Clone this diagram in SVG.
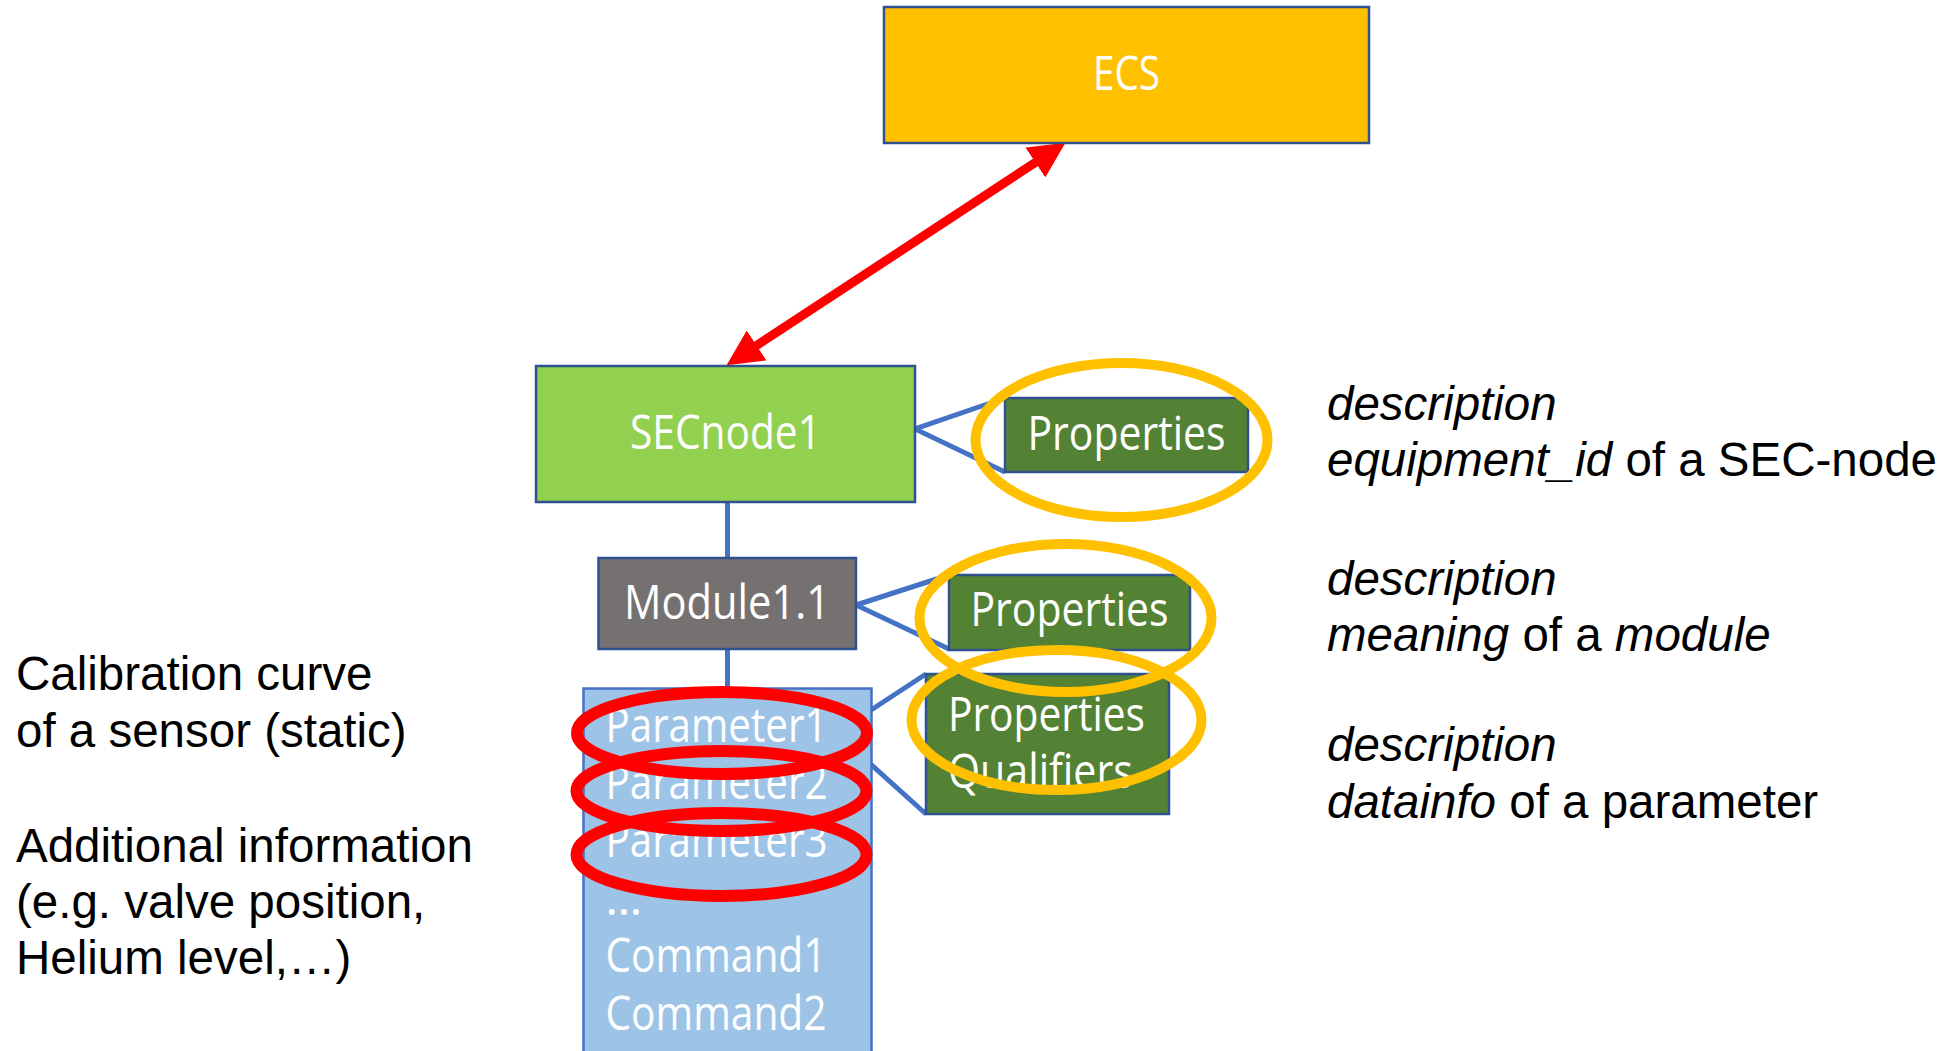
<svg xmlns="http://www.w3.org/2000/svg" width="1956" height="1051" viewBox="0 0 1956 1051">
<style>
.box{stroke:#2F528F;stroke-width:2.5}
.nt{font-family:"Open Sans","Noto Sans",sans-serif;font-size:47px;fill:#ffffff}
.conn{stroke:#4472C4;stroke-width:5;fill:none}
.yel{fill:none;stroke:#FFC000;stroke-width:10}
.red{fill:none;stroke:#FF0000;stroke-width:12}
.note{font-family:"Liberation Sans",Arial,sans-serif;font-size:47.5px;fill:#000000}
.it{font-style:italic}
</style>
<defs>
<marker id="ah" viewBox="0 0 10 10" refX="4.3" refY="5" markerWidth="4" markerHeight="4" orient="auto-start-reverse" markerUnits="strokeWidth">
<path d="M0,0 L10,5 L0,10 z" fill="#FF0000"/>
</marker>
</defs>
<rect width="1956" height="1051" fill="#ffffff"/>

<g id="connectors">
<line class="conn" x1="727.5" y1="502" x2="727.5" y2="558"/>
<line class="conn" x1="727.5" y1="649" x2="727.5" y2="689"/>
<polyline class="conn" points="1005,398 915,429 1005,472"/>
<polyline class="conn" points="949,575 856,605 949,649"/>
<polyline class="conn" points="926,674 836,733 926,814"/>
<line x1="743.7" y1="354" x2="1048.3" y2="154" stroke="#FF0000" stroke-width="9" marker-start="url(#ah)" marker-end="url(#ah)"/>
</g>

<g id="ecs">
<rect class="box" x="884" y="7" width="485" height="136" fill="#FFC000"/>
<text class="nt" x="1126.5" y="90" text-anchor="middle" textLength="67" lengthAdjust="spacingAndGlyphs">ECS</text>
</g>

<g id="secnode1">
<rect class="box" x="536" y="366" width="379" height="136" fill="#92D050"/>
<text class="nt" x="725.5" y="449" text-anchor="middle" textLength="191" lengthAdjust="spacingAndGlyphs">SECnode1</text>
</g>

<g id="secnode-properties">
<rect class="box" x="1005" y="398" width="243" height="74" fill="#548235"/>
<text class="nt" x="1126.5" y="450" text-anchor="middle" textLength="198" lengthAdjust="spacingAndGlyphs">Properties</text>
</g>

<g id="module">
<rect class="box" x="598.5" y="558" width="257.5" height="91" fill="#767171"/>
<text class="nt" x="727" y="619" text-anchor="middle" textLength="206" lengthAdjust="spacingAndGlyphs">Module1.1</text>
</g>

<g id="module-properties">
<rect class="box" x="949" y="575" width="241" height="75" fill="#548235"/>
<text class="nt" x="1069.5" y="626" text-anchor="middle" textLength="198" lengthAdjust="spacingAndGlyphs">Properties</text>
</g>

<g id="parameter-list">
<rect x="583.5" y="688.5" width="288" height="380" fill="#9DC3E6" stroke="#4472C4" stroke-width="2.5"/>
<text class="nt" x="605.5" y="742" textLength="222" lengthAdjust="spacingAndGlyphs">Parameter1</text>
<text class="nt" x="605.5" y="799" textLength="222" lengthAdjust="spacingAndGlyphs">Parameter2</text>
<text class="nt" x="605.5" y="857" textLength="222" lengthAdjust="spacingAndGlyphs">Parameter3</text>
<text class="nt" x="605.5" y="915">…</text>
<text class="nt" x="605.5" y="972" textLength="221" lengthAdjust="spacingAndGlyphs">Command1</text>
<text class="nt" x="605.5" y="1030" textLength="221" lengthAdjust="spacingAndGlyphs">Command2</text>
</g>

<g id="parameter-properties">
<rect class="box" x="926" y="674" width="243" height="140" fill="#548235"/>
<text class="nt" x="948" y="731" textLength="197" lengthAdjust="spacingAndGlyphs">Properties</text>
<text class="nt" x="948" y="788" textLength="185" lengthAdjust="spacingAndGlyphs">Qualifiers</text>
</g>

<g id="highlights">
<ellipse class="yel" cx="1121.5" cy="440" rx="146" ry="77"/>
<ellipse class="yel" cx="1065.5" cy="618" rx="146" ry="74"/>
<ellipse class="yel" cx="1056.5" cy="720" rx="145" ry="70"/>
<ellipse class="red" cx="722" cy="733" rx="145" ry="41"/>
<ellipse class="red" cx="721.5" cy="791" rx="145" ry="40"/>
<ellipse class="red" cx="721.5" cy="854.5" rx="145" ry="41.5"/>
</g>

<g id="left-notes">
<text class="note" x="16" y="690">Calibration curve</text>
<text class="note" x="16" y="747">of a sensor (static)</text>
<text class="note" x="16" y="862">Additional information</text>
<text class="note" x="16" y="918">(e.g. valve position,</text>
<text class="note" x="16" y="974">Helium level,…)</text>
</g>

<g id="right-notes">
<text class="note it" x="1327" y="420">description</text>
<text class="note" x="1327" y="476"><tspan class="it">equipment_id</tspan> of a SEC-node</text>
<text class="note it" x="1327" y="595">description</text>
<text class="note" x="1327" y="651"><tspan class="it">meaning</tspan> of a <tspan class="it">module</tspan></text>
<text class="note it" x="1327" y="761">description</text>
<text class="note" x="1327" y="818"><tspan class="it">datainfo</tspan> of a parameter</text>
</g>
</svg>
